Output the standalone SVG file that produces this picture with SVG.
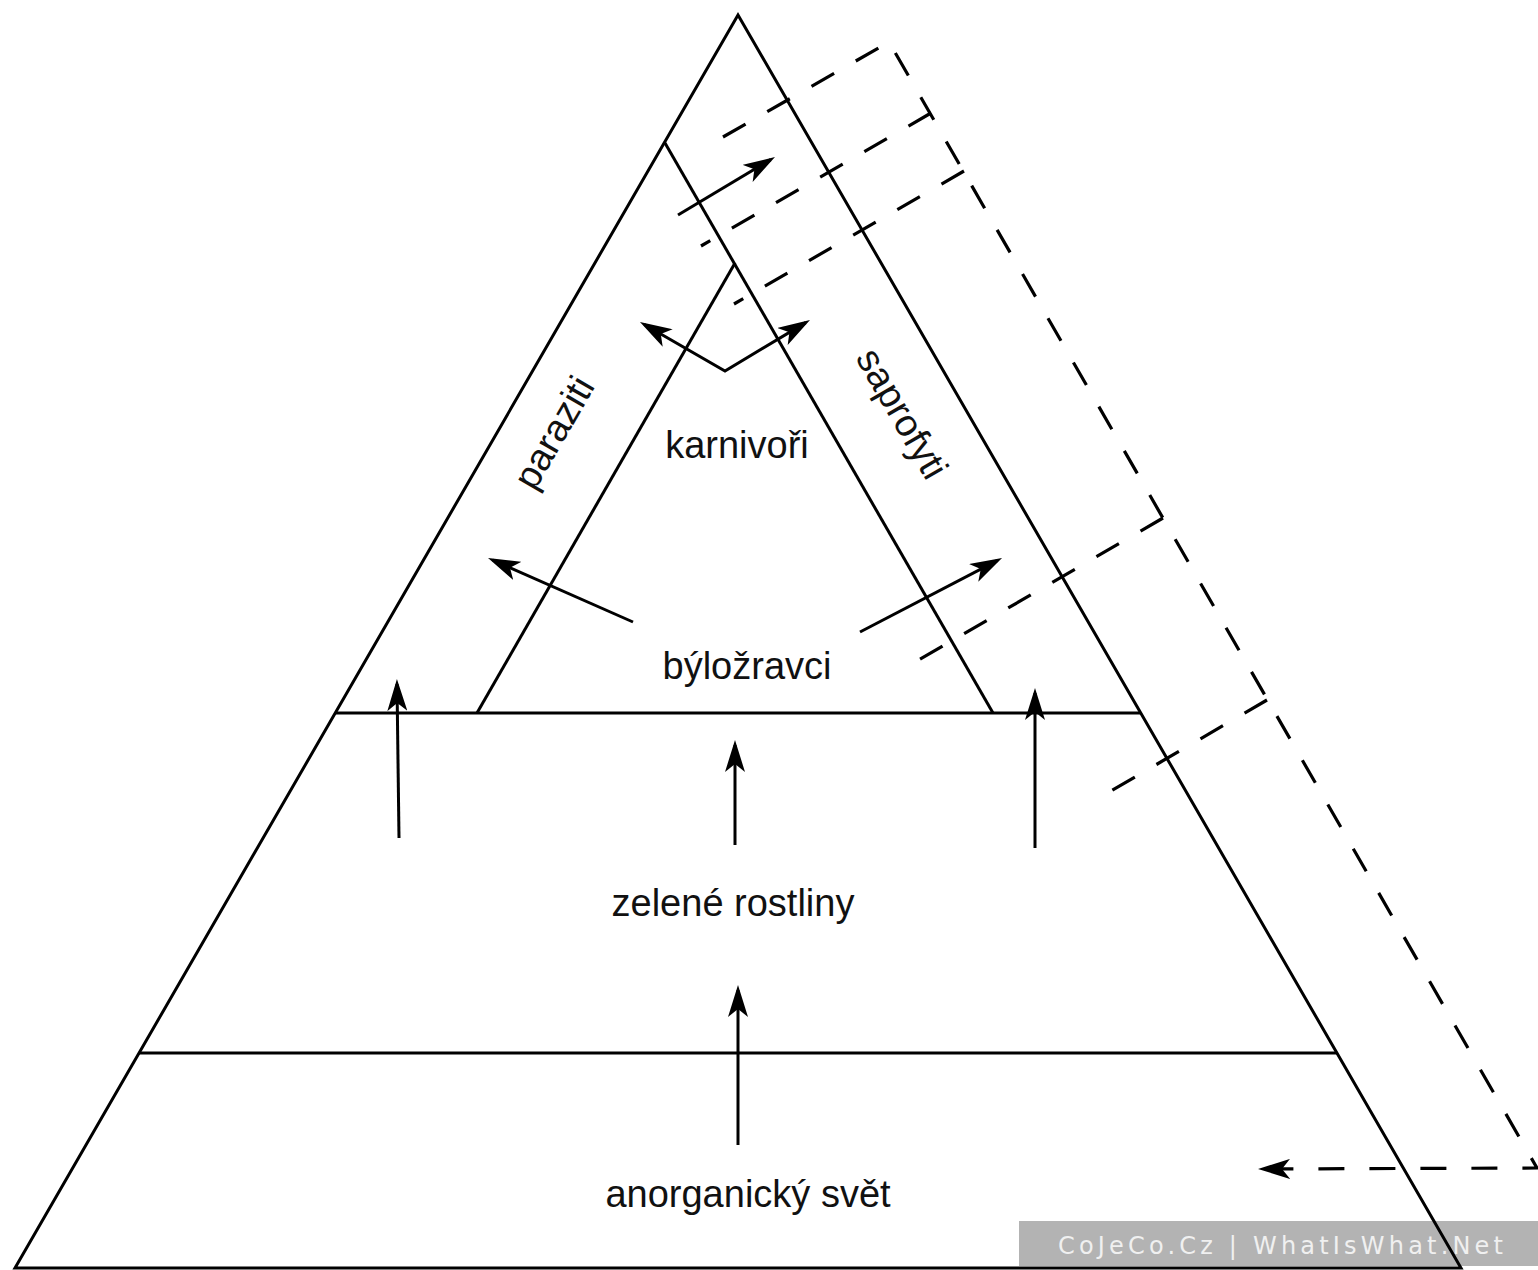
<svg xmlns="http://www.w3.org/2000/svg" width="1538" height="1270" viewBox="0 0 1538 1270">
<style>
.ln{fill:none;stroke:#000;stroke-width:3;stroke-linejoin:miter}
.ar{fill:none;stroke:#000;stroke-width:3;marker-end:url(#ah)}
.ds{fill:none;stroke:#000;stroke-width:3.2;stroke-dasharray:26 25}
.lb{font-family:"Liberation Sans",Arial,sans-serif;font-size:38px;fill:#111;text-anchor:middle}
.wm{font-family:"DejaVu Sans",Verdana,sans-serif;font-size:24px;fill:#f0f0f0}
</style>
<defs>
<marker id="ah" viewBox="0 0 32 20" refX="27" refY="10" markerWidth="32" markerHeight="20" markerUnits="userSpaceOnUse" orient="auto-start-reverse">
<path d="M0,0 L32,10 L0,20 L8,10 Z" fill="#000"/>
</marker>
</defs>
<rect width="1538" height="1270" fill="#fff"/>
<g id="banner">
<rect x="1019" y="1221" width="519" height="45" fill="#b3b3b3"/>
<text class="wm" x="1058" y="1254" textLength="445" lengthAdjust="spacing">CoJeCo.Cz  |  WhatIsWhat.Net</text>
</g>
<g id="pyramid">
<polygon class="ln" points="738,15 15,1268 1461,1268"/>
<line class="ln" x1="335" y1="713" x2="1141" y2="713"/>
<line class="ln" x1="139" y1="1053" x2="1337" y2="1053"/>
<line class="ln" x1="665" y1="143" x2="993" y2="713"/>
<line class="ln" x1="735" y1="263" x2="477" y2="713"/>
</g>
<g id="labels">
<text id="karnivori" class="lb" x="737" y="458">karnivoři</text>
<text id="bylozravci" class="lb" x="747" y="679">býložravci</text>
<text id="zelene" class="lb" x="733" y="916">zelené rostliny</text>
<text id="anorganicky" class="lb" x="748" y="1207">anorganický svět</text>
<text id="paraziti" class="lb" transform="translate(565,439) rotate(-60)">paraziti</text>
<text id="saprofyti" class="lb" transform="translate(891,420) rotate(60)">saprofyti</text>
</g>
<g id="connectors">
<path class="ds" d="M723,137 L889,42 L1537,1168 L1263,1169" marker-end="url(#ah)"/>
<path class="ds" d="M931,113 L701,246"/>
<path class="ds" d="M964,171 L734,304"/>
<path class="ds" d="M1163,518 L917,661"/>
<path class="ds" d="M1267,700 L1111,791"/>
<line class="ar" x1="678" y1="215" x2="770.7" y2="159.6"/>
<path class="ar" d="M644.3,324.5 L725,371 L805.7,322.6" marker-start="url(#ah)"/>
<line class="ar" x1="633" y1="622" x2="492.6" y2="560"/>
<line class="ar" x1="860" y1="632" x2="997.6" y2="560.3"/>
<line class="ar" x1="399" y1="838" x2="397" y2="684"/>
<line class="ar" x1="735" y1="845" x2="735" y2="745"/>
<line class="ar" x1="1035" y1="848" x2="1035" y2="693"/>
<line class="ar" x1="738" y1="1145" x2="738" y2="990"/>
</g>
</svg>
